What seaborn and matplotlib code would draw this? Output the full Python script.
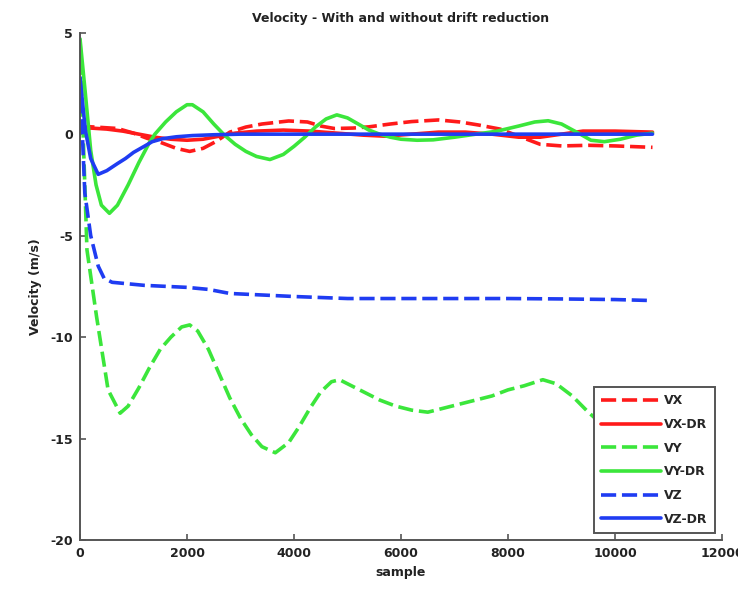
import matplotlib
matplotlib.use("Agg")
import matplotlib.pyplot as plt
import seaborn as sns
import pandas as pd

# ---- data ----
vx_x = [0, 150, 400, 700, 1000, 1250, 1500, 1800, 2050, 2300, 2550, 2800, 3100, 3400, 3900, 4250,
        4500, 4750, 5100, 5400, 5800, 6200, 6700, 7100, 7450, 7850, 8250, 8600, 9000, 9500, 10000, 10700]
vx_y = [0.2, 0.37, 0.33, 0.28, 0.05, -0.2, -0.4, -0.7, -0.85, -0.7, -0.35, 0.1, 0.35, 0.5, 0.65, 0.6,
        0.4, 0.28, 0.3, 0.36, 0.5, 0.62, 0.7, 0.6, 0.45, 0.25, -0.15, -0.5, -0.58, -0.55, -0.58, -0.65]

vxdr_x = [0, 200, 500, 800, 1100, 1400, 1700, 2000, 2300, 2600, 2900, 3300, 3800, 4300, 4800, 5300,
          5700, 6200, 6700, 7200, 7700, 8200, 8600, 9000, 9400, 10000, 10700]
vxdr_y = [0.1, 0.3, 0.25, 0.15, 0.0, -0.15, -0.25, -0.3, -0.25, -0.1, 0.05, 0.15, 0.2, 0.15, 0.05, -0.05,
          -0.1, 0.0, 0.1, 0.1, 0.0, -0.15, -0.15, 0.0, 0.15, 0.15, 0.1]

vy_x = [0, 130, 310, 525, 750, 900, 1100, 1300, 1500, 1700, 1900, 2050, 2200, 2400, 2600, 2800, 3000,
        3200, 3400, 3650, 3900, 4100, 4300, 4500, 4700, 4850, 5000, 5300, 5600, 5900, 6200, 6500, 6800,
        7100, 7400, 7700, 8000, 8300, 8650, 8900, 9200, 9500, 9800, 10100, 10400, 10700]
vy_y = [4.7, -5.7, -9.0, -12.6, -13.75, -13.4, -12.5, -11.5, -10.6, -10.0, -9.5, -9.4, -9.7, -10.6,
        -11.8, -13.0, -14.0, -14.8, -15.4, -15.7, -15.2, -14.4, -13.5, -12.7, -12.2, -12.1, -12.3, -12.7,
        -13.1, -13.4, -13.6, -13.7, -13.5, -13.3, -13.1, -12.9, -12.6, -12.4, -12.1, -12.3, -12.9, -13.7,
        -14.4, -14.8, -15.0, -15.1]

vydr_x = [0, 100, 200, 300, 400, 550, 700, 900, 1100, 1300, 1400, 1600, 1800, 2000, 2100, 2300, 2500,
          2700, 2900, 3100, 3300, 3550, 3800, 4000, 4200, 4400, 4600, 4800, 5000, 5200, 5400, 5600, 5800,
          6000, 6300, 6600, 7000, 7400, 7800, 8200, 8500, 8750, 9000, 9350, 9550, 9800, 10100, 10400, 10700]
vydr_y = [4.7, 2.0, -0.8, -2.5, -3.5, -3.9, -3.5, -2.5, -1.4, -0.4, 0.0, 0.6, 1.1, 1.45, 1.45, 1.1, 0.5,
          -0.05, -0.5, -0.85, -1.1, -1.25, -1.0, -0.6, -0.15, 0.35, 0.75, 0.95, 0.8, 0.5, 0.2, 0.0, -0.15,
          -0.25, -0.3, -0.28, -0.15, 0.0, 0.15, 0.4, 0.6, 0.66, 0.5, 0.0, -0.3, -0.37, -0.25, -0.05, 0.05]

vz_x = [0, 90, 200, 340, 450, 600, 800, 1200, 1600, 2000, 2400, 2800, 3200, 3600, 4000, 4500, 5000,
        6000, 7000, 8000, 9000, 10000, 10700]
vz_y = [2.8, -2.9, -5.0, -6.5, -7.1, -7.3, -7.35, -7.45, -7.5, -7.55, -7.65, -7.85, -7.9, -7.95, -8.0,
        -8.05, -8.1, -8.1, -8.1, -8.1, -8.12, -8.15, -8.2]

vzdr_x = [0, 100, 200, 340, 500, 700, 850, 1000, 1200, 1350, 1550, 1800, 2100, 2500, 3000, 4000, 5000,
          6000, 7000, 8000, 9000, 10000, 10700]
vzdr_y = [2.8, 0.2, -1.2, -1.98, -1.8, -1.45, -1.2, -0.9, -0.6, -0.37, -0.22, -0.13, -0.07, -0.03, 0.0,
          0.0, 0.0, 0.0, 0.0, 0.0, 0.0, 0.0, 0.0]

labels = ["VX", "VX-DR", "VY", "VY-DR", "VZ", "VZ-DR"]
x_ticks = [0, 2000, 4000, 6000, 8000, 10000, 12000]
y_ticks = [-20, -15, -10, -5, 0, 5]

# ---- styling ----
sns.set_style("ticks")
plt.rcParams['font.family'] = ['DejaVu Sans']
plt.rcParams['font.weight'] = 'bold'

RED, GREEN, BLUE = "#ff1a1a", "#3be63b", "#1f3cf2"
DASH = (0, (4.2, 1.6))

fig = plt.figure(figsize=(7.38, 5.90), dpi=100)
ax = fig.add_axes([0.1084, 0.0847, 0.8700, 0.8599])

series = [
    (vx_x, vx_y, RED, DASH),
    (vxdr_x, vxdr_y, RED, "-"),
    (vy_x, vy_y, GREEN, DASH),
    (vydr_x, vydr_y, GREEN, "-"),
    (vz_x, vz_y, BLUE, DASH),
    (vzdr_x, vzdr_y, BLUE, "-"),
]
for (xs, ys, c, ls), lab in zip(series, labels):
    df = pd.DataFrame({"sample": xs, "v": ys})
    sns.lineplot(data=df, x="sample", y="v", ax=ax, color=c, linestyle=ls,
                 linewidth=2.6, label=lab, sort=False, estimator=None)

ax.set_xlim(0, 12000)
ax.set_ylim(-20, 5)
ax.set_xticks(x_ticks)
ax.set_yticks(y_ticks)
ax.set_xticklabels([str(t) for t in x_ticks])
ax.set_yticklabels([str(t) for t in y_ticks])

for s in ["top", "right"]:
    ax.spines[s].set_visible(False)
for s in ["left", "bottom"]:
    ax.spines[s].set_color("#555555")
    ax.spines[s].set_linewidth(1.4)
ax.tick_params(direction="in", length=4, width=1.2, color="#555555",
               labelsize=9, labelcolor="#222222", pad=5)
for lab in ax.get_xticklabels() + ax.get_yticklabels():
    lab.set_fontweight("bold")

ax.set_xlabel("sample", fontsize=9, fontweight="bold", color="#222222", labelpad=4)
ax.set_ylabel("Velocity (m/s)", fontsize=9, fontweight="bold", color="#222222", labelpad=6)
ax.set_title("Velocity - With and without drift reduction", fontsize=9, fontweight="bold",
             color="#222222", pad=8)

leg = ax.legend(loc="lower right", bbox_to_anchor=(0.989, 0.0138), frameon=True, fancybox=False,
                edgecolor="#555555", fontsize=9, handlelength=4.8, labelspacing=0.85,
                handletextpad=0.2, borderpad=0.6, borderaxespad=0)
leg.get_frame().set_linewidth(1.4)
leg.get_frame().set_alpha(1)
for t in leg.get_texts():
    t.set_fontweight("bold")

fig.savefig("out.png", dpi=100)
